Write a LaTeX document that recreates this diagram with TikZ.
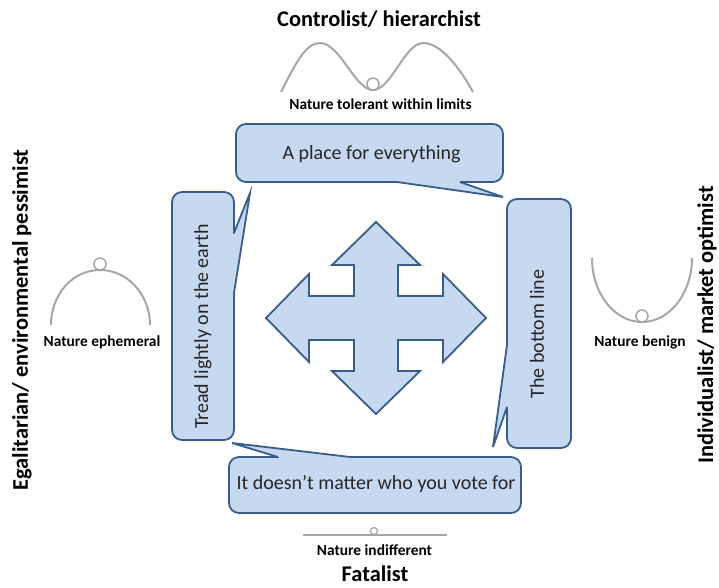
\documentclass[tikz,border=0pt]{standalone}
\usepackage{fontspec}
\setmainfont{Carlito}
\definecolor{boxfill}{HTML}{C6D9F1}
\definecolor{boxline}{HTML}{385D8A}
\definecolor{natgray}{HTML}{A6A6A6}
\begin{document}
\begin{tikzpicture}[x=1pt,y=-1pt,
  callbox/.style={draw=boxline, fill=boxfill, line width=1.8pt, rounded corners=10pt, inner sep=0pt, outer sep=0pt},
  tailline/.style={draw=boxline, fill=boxfill, line width=1.8pt, line join=miter},
  calltext/.style={font=\fontsize{20}{21}\selectfont, inner sep=0pt, text=black!85},
  title/.style={font=\bfseries\fontsize{22.4}{23}\selectfont, inner sep=0pt},
  nattext/.style={font=\bfseries\fontsize{15.4}{16}\selectfont, inner sep=0pt},
  natcurve/.style={draw=natgray, line width=2pt},
  ball/.style={circle, draw=natgray, fill=white, line width=1.5pt, minimum size=12pt, inner sep=0pt},
  crossarrow/.style={draw=boxline, fill=boxfill, line width=1.8pt, line join=miter}
]
\useasboundingbox (0,0) rectangle (719,587);

% titles
\node[title] (ctrl) at (379,19) {Controlist/ hierarchist};
\node[title, rotate=90] (egal) at (22,320) {Egalitarian/ environmental pessimist};
\node[title, rotate=90] (indiv) at (707,325) {Individualist/ market optimist};
\node[title] (fatal) at (375,574) {Fatalist};

% nature curves
\draw[natcurve] (281,92) .. controls (295,65) and (305,43) .. (320,43) .. controls (340,43) and (355,90) .. (373,90) .. controls (391,90) and (405,43) .. (423,43) .. controls (440,43) and (458,65) .. (473,92);
\node[ball] (tball) at (373,84) {};
\node[nattext] (tol) at (380.5,104) {Nature tolerant within limits};

\draw[natcurve] (51,325) .. controls (51,294.6) and (72.4,270) .. (100,270) .. controls (127.6,270) and (150,294.6) .. (150,325);
\node[ball] (lball) at (100,264) {};
\node[nattext] (eph) at (102,342) {Nature ephemeral};

\draw[natcurve] (592,258) .. controls (592,293.3) and (614.4,322) .. (642,322) .. controls (669.6,322) and (692,293.3) .. (692,258);
\node[ball] (rball) at (642,316) {};
\node[nattext] (ben) at (640,342) {Nature benign};

\draw[natcurve, line width=1.5pt] (303,535) -- (447,535);
\node[ball, minimum size=7pt, line width=1.2pt] (bball) at (374,531) {};
\node[nattext] (indiff) at (374.5,550) {Nature indifferent};

% callouts
\node[callbox, minimum width=267pt, minimum height=58pt] (placebox) at (369.5,153) {};
\fill[boxfill] (397.5,181) rectangle (459.5,182.3);
\path[tailline] (397,182) -- (503,197) -- (460,182);
\node[calltext] (placetext) at (371.5,154) {A place for everything};

\node[callbox, rotate=90, minimum width=248pt, minimum height=62pt] (treadbox) at (203,316) {};
\fill[boxfill] (233,233.5) rectangle (234.3,292.5);
\path[tailline] (234,293) -- (250,193) -- (234,233);
\node[calltext, rotate=90] (treadtext) at (203,326.5) {Tread lightly on the earth};

\node[callbox, rotate=90, minimum width=249pt, minimum height=64pt] (bottombox) at (539,323.5) {};
\fill[boxfill] (506.7,345.5) rectangle (508,406.5);
\path[tailline] (507,345) -- (493,447) -- (507,407);
\node[calltext, rotate=90] (bottomtext) at (537,334) {The bottom line};

\node[callbox, minimum width=292pt, minimum height=56pt] (votebox) at (375,485) {};
\fill[boxfill] (278.5,456.7) rectangle (349.5,458);
\path[tailline] (350,457) -- (232,443) -- (278,457);
\node[calltext] (votetext) at (376,484) {It doesn’t matter who you vote for};

% central four-way arrow
\draw[crossarrow, shift={(376,318)}] (0,-96) -- (44,-53) -- (22,-53) -- (22,-22) -- (67,-22) -- (67,-44) -- (110,0) -- (67,44) -- (67,22) -- (22,22) -- (22,53) -- (44,53) -- (0,96) -- (-44,53) -- (-22,53) -- (-22,22) -- (-67,22) -- (-67,44) -- (-110,0) -- (-67,-44) -- (-67,-22) -- (-22,-22) -- (-22,-53) -- (-44,-53) -- cycle;
\end{tikzpicture}
\end{document}
